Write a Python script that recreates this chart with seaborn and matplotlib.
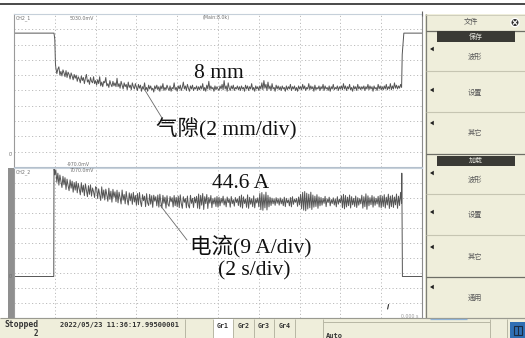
import numpy as np
import pandas as pd
import seaborn as sns
import matplotlib
matplotlib.use("Agg")
import matplotlib.pyplot as plt
from matplotlib.patches import Rectangle, Circle, Polygon

sns.set_theme(style="white")
plt.rcParams["font.family"] = ["DejaVu Sans", "Noto Sans CJK SC"]

# ---------------------------------------------------------------- data
# time base of the recorded segment (s), 0.05 s per sample from 2.05 s to 19.00 s
dt = 0.05
t_run = np.round(2.05 + dt * np.arange(340), 2)

# air gap (mm): lead-in, levitated segment, tail
gap_lead_t = [0.0, 1.96, 2.00, 2.03]
gap_lead = [15.3, 15.3, 14.5, 11.4]
gap_run = [
    10.8, 10.0, 10.6, 10.9, 9.8, 10.3, 9.7, 10.5, 10.1, 9.6, 10.4, 9.5, 10.2, 9.9, 9.3, 10.1, 9.7, 9.2, 9.9, 9.4,
    9.8, 9.0, 9.6, 9.3, 8.8, 9.7, 9.1, 9.5, 8.7, 9.4, 9.9, 8.9, 9.2, 8.6, 9.5, 9.0, 8.8, 9.6, 8.7, 9.1,
    8.5, 9.2, 8.7, 9.6, 8.4, 8.9, 8.3, 9.0, 8.8, 9.5, 8.4, 8.7, 8.2, 9.1, 8.6, 8.3, 9.0, 8.4, 8.8, 8.3,
    9.4, 8.3, 8.7, 8.1, 9.0, 8.5, 8.0, 8.8, 8.3, 8.6, 7.9, 8.9, 8.2, 8.5, 7.9, 8.8, 8.3, 8.0, 8.7, 8.2,
    7.8, 8.6, 8.1, 8.5, 7.7, 8.3, 8.0, 8.8, 7.9, 8.2, 7.7, 8.5, 8.0, 8.4, 7.9, 8.1, 7.6, 8.4, 8.0, 8.5,
    7.9, 8.3, 7.7, 8.4, 8.0, 8.7, 7.8, 8.2, 7.9, 8.5, 8.1, 7.8, 8.4, 7.7, 8.2, 8.0, 8.8, 7.9, 8.2, 7.7,
    8.4, 8.0, 8.5, 7.8, 8.2, 8.9, 8.0, 8.4, 7.8, 8.6, 8.1, 7.7, 8.4, 8.0, 8.5, 7.8, 8.2, 8.0, 8.4, 7.8,
    8.3, 7.9, 8.4, 8.0, 8.7, 7.8, 8.2, 7.7, 8.5, 8.0, 9.0, 7.9, 8.4, 8.0, 8.2, 7.7, 8.4, 7.9, 8.3, 8.0,
    7.8, 8.4, 8.0, 8.6, 7.9, 9.1, 8.0, 8.4, 7.7, 8.8, 8.1, 7.8, 8.4, 8.0, 8.5, 7.8, 8.2, 8.0, 8.4, 7.9,
    8.3, 7.8, 8.4, 8.0, 8.2, 7.7, 8.5, 8.0, 8.4, 7.8, 8.3, 8.0, 8.7, 7.9, 8.2, 7.7, 8.4, 8.0, 8.3, 7.8,
    8.4, 8.0, 8.8, 7.9, 9.1, 8.1, 8.6, 7.8, 8.9, 8.0, 8.4, 7.8, 8.7, 8.0, 8.2, 7.7, 8.5, 8.0, 8.4, 7.9,
    8.3, 7.8, 8.4, 8.0, 8.2, 7.7, 8.4, 7.9, 8.3, 8.0, 8.6, 7.8, 8.3, 8.0, 8.4, 7.8, 8.2, 7.7, 8.4, 8.0,
    8.3, 7.9, 8.6, 8.0, 8.4, 7.8, 8.2, 8.0, 8.7, 7.9, 8.4, 8.0, 8.3, 7.7, 8.5, 7.9, 8.2, 8.0, 8.4, 7.8,
    8.3, 8.0, 8.6, 7.8, 8.4, 8.0, 8.2, 7.8, 8.4, 7.7, 8.3, 8.0, 8.6, 7.9, 8.2, 8.0, 8.4, 7.8, 8.3, 8.0,
    8.4, 7.9, 8.7, 8.0, 8.4, 7.8, 8.3, 8.0, 8.6, 7.9, 8.2, 7.7, 8.4, 8.0, 8.3, 7.8, 8.6, 8.0, 8.3, 7.9,
    8.3, 8.0, 8.4, 7.8, 8.3, 8.0, 8.6, 7.9, 8.4, 8.0, 8.3, 7.7, 8.4, 8.0, 8.2, 7.8, 8.6, 8.0, 8.4, 7.9,
    8.3, 7.9, 8.4, 8.0, 8.6, 7.9, 8.3, 8.0, 8.7, 7.9, 8.4, 8.0, 8.8, 8.1, 8.5, 8.0, 8.4, 8.1, 8.6, 8.2,
]
gap_tail_t = [19.03, 19.11, 20.0]
gap_tail = [12.5, 15.3, 15.3]

# coil current (A): lead-in, levitated segment, tail
cur_lead_t = [0.0, 1.95, 1.96, 2.00]
cur_lead = [0.0, 0.0, 66.0, 61.0]
cur_run = [
    64.0, 56.5, 62.0, 54.8, 60.9, 57.2, 53.4, 60.1, 55.0, 59.3, 52.2, 58.4, 54.6, 51.5, 58.0, 53.0, 57.2, 50.6, 56.4, 51.8,
    57.0, 50.2, 55.9, 52.4, 49.0, 56.3, 50.6, 54.8, 48.5, 55.6, 51.7, 47.9, 54.5, 49.3, 55.0, 48.2, 53.1, 50.8, 47.4, 53.9,
    53.2, 46.8, 52.6, 48.9, 45.6, 53.8, 47.2, 51.9, 45.9, 52.4, 49.0, 45.1, 53.0, 46.3, 51.2, 44.6, 52.3, 47.5, 50.8, 44.9,
    51.8, 44.2, 50.6, 47.3, 43.5, 51.9, 45.8, 49.2, 43.6, 51.0, 46.1, 42.9, 50.2, 45.4, 49.7, 43.3, 50.5, 44.7, 48.6, 42.8,
    49.8, 43.1, 50.4, 44.9, 42.0, 49.1, 45.5, 48.2, 41.9, 49.7, 44.2, 42.6, 49.3, 43.4, 48.5, 41.5, 48.8, 45.2, 47.9, 42.4,
    48.9, 41.6, 49.4, 44.6, 41.2, 48.7, 43.9, 47.6, 41.0, 48.5, 43.3, 42.1, 48.0, 44.8, 47.3, 41.7, 48.6, 42.5, 47.5, 41.9,
    48.2, 41.3, 49.0, 43.8, 40.9, 47.9, 44.5, 46.8, 41.2, 48.3, 42.6, 41.1, 48.7, 43.9, 46.9, 41.4, 47.6, 44.2, 48.1, 41.0,
    49.5, 40.6, 48.7, 42.8, 49.8, 40.2, 47.9, 43.7, 49.2, 40.8, 47.4, 44.0, 48.6, 41.3, 46.8, 43.5, 47.3, 42.0, 48.0, 41.6,
    47.6, 42.4, 46.9, 44.1, 48.2, 42.9, 46.3, 41.8, 47.7, 44.3, 46.5, 41.6, 48.0, 43.7, 46.1, 42.2, 47.4, 44.4, 46.6, 42.6,
    48.1, 41.7, 48.9, 41.0, 47.8, 43.8, 46.4, 41.5, 49.0, 40.9, 47.5, 43.4, 46.7, 41.9, 48.4, 41.2, 46.6, 44.1, 47.2, 41.8,
    49.8, 40.1, 50.4, 39.7, 49.1, 41.2, 50.6, 39.9, 48.7, 41.8, 47.6, 42.6, 47.0, 43.6, 46.5, 42.7, 47.3, 43.9, 46.6, 42.8,
    47.2, 43.6, 46.4, 42.5, 47.6, 41.9, 46.9, 44.2, 46.0, 42.4, 47.4, 41.8, 47.9, 43.3, 46.3, 44.5, 46.8, 42.1, 47.7, 43.0,
    49.3, 40.6, 50.5, 39.8, 51.0, 39.4, 50.0, 40.5, 49.4, 41.2, 50.6, 40.2, 48.9, 41.6, 48.2, 42.0, 49.1, 40.9, 47.8, 42.4,
    47.4, 42.8, 46.8, 43.9, 48.1, 41.9, 46.5, 44.4, 47.6, 42.4, 46.2, 43.8, 47.2, 42.9, 46.6, 41.8, 47.9, 43.4, 46.4, 44.2,
    48.4, 41.3, 49.3, 40.6, 48.6, 41.7, 47.6, 42.5, 48.9, 41.1, 47.9, 43.0, 46.9, 42.0, 48.3, 41.4, 47.3, 42.8, 46.8, 43.6,
    48.8, 41.0, 47.9, 41.9, 49.6, 40.3, 48.4, 42.4, 47.3, 43.1, 48.6, 41.6, 47.8, 42.7, 46.9, 43.5, 48.1, 41.7, 48.7, 41.2,
    48.2, 42.0, 49.1, 41.1, 47.6, 42.9, 49.4, 40.8, 48.3, 41.9, 48.8, 41.4, 47.7, 43.0, 49.5, 40.9, 48.2, 42.6, 50.5, 44.0,
]
cur_tail_t = [19.01, 19.04, 20.0]
cur_tail = [62.0, 0.0, 0.0]

gap_df = pd.DataFrame({"t": np.concatenate([gap_lead_t, t_run, gap_tail_t]),
                       "mm": np.concatenate([gap_lead, gap_run, gap_tail])})
cur_df = pd.DataFrame({"t": np.concatenate([cur_lead_t, t_run, cur_tail_t]),
                       "A": np.concatenate([cur_lead, cur_run, cur_tail])})

# screen settings: 2 s/div, 2 mm/div, 9 A/div, 10 divisions each
T_RANGE = (0.0, 20.0)
GAP_RANGE = (-2.2, 17.8)
CUR_RANGE = (-24.9, 65.1)

# ---------------------------------------------------------------- figure
W, H = 525, 338
fig = plt.figure(figsize=(W / 100, H / 100), dpi=100, facecolor="white")

TRACE = "#555555"
GRID = "#bcbcbc"
SERIF = ["Liberation Serif", "Noto Sans CJK SC"]
CJK = ["Noto Sans CJK SC", "DejaVu Sans"]
BEIGE = "#efeedb"


def scope_axes(rect, yrange):
    ax = fig.add_axes(rect)
    ax.set_facecolor("white")
    ax.set_xlim(*T_RANGE)
    ax.set_ylim(*yrange)
    ax.set_xticks(np.linspace(T_RANGE[0], T_RANGE[1], 11))
    ax.set_yticks(np.linspace(yrange[0], yrange[1], 11))
    ax.tick_params(length=0, labelbottom=False, labelleft=False)
    ax.grid(True, color=GRID, linestyle=(0, (1.2, 2.4)), linewidth=0.7)
    for side, col in (("left", "#9a9a9a"), ("right", "#8c8c8c"),
                      ("top", "#c6d0da"), ("bottom", "#b4c0cc")):
        ax.spines[side].set_color(col)
        ax.spines[side].set_linewidth(0.8)
    return ax


ax_gap = scope_axes([14 / W, 1 - 167 / H, 408 / W, 153 / H], GAP_RANGE)
ax_cur = scope_axes([14 / W, 1 - 318 / H, 408 / W, 150 / H], CUR_RANGE)

sns.lineplot(data=gap_df, x="t", y="mm", ax=ax_gap, color=TRACE,
             linewidth=0.7, estimator=None, sort=False)
sns.lineplot(data=cur_df, x="t", y="A", ax=ax_cur, color=TRACE,
             linewidth=0.7, estimator=None, sort=False)
for ax in (ax_gap, ax_cur):
    ax.set_xlabel("")
    ax.set_ylabel("")

# overlay in pixel coordinates for the instrument frame and the labels
ui = fig.add_axes([0, 0, 1, 1], zorder=5)
ui.set_xlim(0, W)
ui.set_ylim(H, 0)
ui.axis("off")
ui.patch.set_visible(False)


def box(x0, y0, x1, y1, fc, ec="none", lw=0.6, z=1):
    ui.add_patch(Rectangle((x0, y0), x1 - x0, y1 - y0, facecolor=fc,
                           edgecolor=ec, linewidth=lw, zorder=z))


def hline(y, x0, x1, c, lw=0.8, z=2):
    ui.plot([x0, x1], [y, y], color=c, linewidth=lw, zorder=z,
            solid_capstyle="butt")


def vline(x, y0, y1, c, lw=0.8, z=2):
    ui.plot([x, x], [y0, y1], color=c, linewidth=lw, zorder=z,
            solid_capstyle="butt")


# header rule and frame marks
hline(4.2, 0, W, "#3a3a3a", lw=1.3)
vline(421.6, 11, 16, "#666666", lw=0.8)
box(8, 168, 14, 318, "#8f8f8f")

# channel captions
small = dict(fontsize=3.4, color="#707070", zorder=6, va="center")
ui.text(16, 18, "CH2_1", ha="left", **small)
ui.text(70, 18, "5030.0mV", ha="left", **small)
ui.text(203, 18, "(Main:8.0k)", ha="left", **small)
ui.text(16, 172, "CH2_2", ha="left", **small)
ui.text(67, 165, "-970.0mV", ha="left", **small)
ui.text(70, 170, "7070.0mV", ha="left", **small)
ui.text(8.5, 155, "0'", ha="left", **small)
ui.text(8.5, 276, "0'", ha="left", **small)
ui.text(418, 317, "0.000 s", ha="right", fontsize=3.4, color="#9a9a9a",
        zorder=6, va="center")
ui.plot([387.6, 388.6], [309, 304.5], color="#333333", linewidth=0.8, zorder=6)

# annotations on the traces
big = dict(fontsize=15.5, color="#111111", family=SERIF, ha="center",
           va="center", zorder=7)
ui.text(219, 73, "8 mm", **big)
ui.text(226, 129, "气隙(2 mm/div)", **big)
ui.text(241, 183, "44.6 A", **big)
ui.text(251, 246, "电流(9 A/div)", **big)
ui.text(254, 271, "(2 s/div)", **big)
ui.plot([143, 162], [87, 118], color="#6a6a6a", linewidth=0.6, zorder=7)
ui.plot([160, 187], [205, 240], color="#6a6a6a", linewidth=0.6, zorder=7)

# side menu
box(425, 14, W, 318, BEIGE)
vline(425.5, 14, 318, "#7f7f77", lw=0.9)
hline(14.5, 425, W, "#c9c8b6", lw=0.6)
ui.text(471, 22, "文件", fontsize=5.2, color="#555555", family=CJK,
        ha="center", va="center", zorder=6)
ui.add_patch(Circle((515, 22.5), 4.2, facecolor="#2f2f2f", zorder=6))
ui.plot([513.2, 516.8], [20.7, 24.3], color="white", linewidth=0.9, zorder=7)
ui.plot([513.2, 516.8], [24.3, 20.7], color="white", linewidth=0.9, zorder=7)

for y in (30.5, 153.5, 276.5):
    hline(y, 426, W, "#6e6e66", lw=0.9)
for y in (71, 112, 194, 235):
    hline(y, 426, W, "#c6c5b2", lw=0.8)
hline(317.5, 426, W, "#9a9a90", lw=0.8)

for (y0, y1, label) in ((31, 42, "保存"), (156, 166, "加载")):
    box(437, y0, 515, y1, "#3a3a35", z=3)
    ui.text(476, (y0 + y1) / 2, label, fontsize=5, color="#e8e8e0",
            family=CJK, ha="center", va="center", zorder=6)

menu_items = [(57, "波形"), (93, "设置"), (133, "其它"), (180, "波形"),
              (215, "设置"), (257, "其它"), (298, "通用")]
for y, label in menu_items:
    ui.text(475, y, label, fontsize=5.2, color="#5a5a5a", family=CJK,
            ha="center", va="center", zorder=6)
for y in (49, 90, 123, 173, 212, 247, 287):
    ui.add_patch(Polygon([(430.0, y), (433.8, y - 2.3), (433.8, y + 2.3)],
                         closed=True, facecolor="#1e1e1e", edgecolor="none",
                         zorder=8))

# status bar
box(0, 318, W, H, BEIGE)
hline(318.4, 0, W, "#9a9a90", lw=0.8)
hline(319.3, 430, 467, "#8fb2d6", lw=0.9, z=3)
box(213, 319, 233, H, "white", z=2)
for x in (185, 213, 233, 254, 274, 295, 323, 490, 507):
    vline(x, 319, H, "#b8b7a4", lw=0.7)
hline(321.8, 323, 490, "#b8b7a4", lw=0.7)
mono = dict(family="DejaVu Sans Mono", fontweight="bold", color="#333333",
            zorder=6, va="center")
ui.text(4, 324.5, "Stopped", fontsize=5.8, ha="left", **mono)
ui.text(36, 333.5, "2", fontsize=5.5, ha="center", **mono)
ui.text(60, 324.5, "2022/05/23 11:36:17.99500001", fontsize=5.0, ha="left",
        **mono)
for x, label in ((223, "Gr1"), (243.5, "Gr2"), (264, "Gr3"), (284.5, "Gr4")):
    ui.text(x, 326.5, label, fontsize=4.8, ha="center", **mono)
ui.text(326, 336, "Auto", fontsize=5.0, ha="left", **mono)
box(510, 322, W, H, "#2f6fb3", z=3)
box(513.5, 326, 521.5, 335, "none", ec="#1c2c40", lw=0.8, z=4)
vline(517.5, 326, 335, "#1c2c40", lw=0.8, z=4)

fig.savefig("out.png", dpi=100, facecolor="white")
